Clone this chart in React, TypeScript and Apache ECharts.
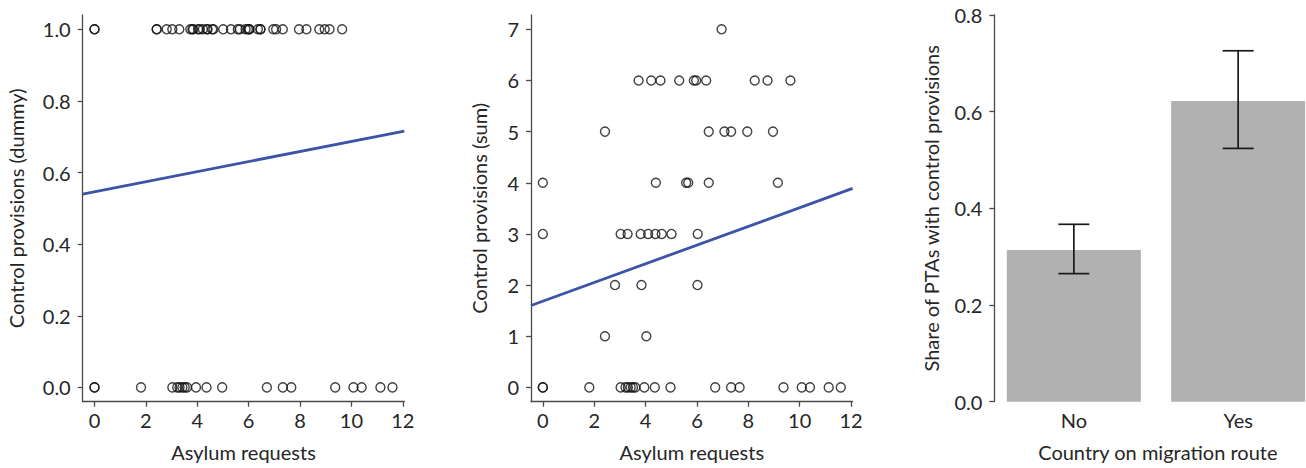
import React, { useEffect, useRef } from "react";
import * as echarts from "echarts";

// Asylum requests of countries, grouped by number of control provisions (sum)
const sum0 = [0, 0, 1.81, 3.03, 3.22, 3.31, 3.42, 3.51, 3.6, 3.95, 4.36, 4.97, 6.71, 7.33, 7.66, 9.37, 10.08, 10.4, 11.13, 11.6];
const sum1 = [2.42, 4.03];
const sum2 = [2.81, 3.84, 6.02];
const sum3 = [0, 3.03, 3.3, 3.81, 4.1, 4.38, 4.63, 5.01, 6.03];
const sum4 = [0, 4.4, 5.58, 5.66, 6.46, 9.15];
const sum5 = [2.42, 6.46, 7.07, 7.33, 7.96, 8.96];
const sum6 = [3.73, 4.22, 4.58, 5.31, 5.88, 5.97, 6.36, 8.25, 8.75, 9.64];
const sum7 = [6.96];
const sumGroups = [sum0, sum1, sum2, sum3, sum4, sum5, sum6, sum7];

// fitted lines (end points across the plot region)
const fitDummy = [[-0.46, 0.54], [12.06, 0.716]];
const fitSum = [[-0.46, 1.6], [12.06, 3.89]];

// bar panel
const routeCats = ["No", "Yes"];
const routeShare = [0.314, 0.622];
const routeLow = [0.265, 0.524];
const routeHigh = [0.367, 0.726];

const xTicks = [0, 2, 4, 6, 8, 10, 12];
const dummyTicks = [0, 0.2, 0.4, 0.6, 0.8, 1.0];
const sumTicks = [0, 1, 2, 3, 4, 5, 6, 7];

const FONT = "Lato";
const FS = 20;
const TXT = "#262626";
const AX = "#4a4a4a";

export default function App() {
  const ref = useRef<HTMLDivElement>(null);
  useEffect(() => {
    if (!ref.current) return;
    const chart = echarts.init(ref.current, null, { renderer: "svg" });

    const dummyPts: number[][] = [];
    const sumPts: number[][] = [];
    sumGroups.forEach((arr, level) => {
      arr.forEach((x) => {
        sumPts.push([x, level]);
        dummyPts.push([x, level > 0 ? 1 : 0]);
      });
    });

    const gridTop = 15;
    const gridH = 386.7;
    const axisLine = { show: true, onZero: false, lineStyle: { color: AX, width: 1.3 } };
    const axisTick = (vals?: number[]) => ({
      show: true,
      inside: false,
      length: 5,
      lineStyle: { color: AX, width: 1.3 },
      ...(vals ? { customValues: vals } : {}),
    });
    const lbl = { color: TXT, fontFamily: FONT, fontSize: FS };
    const nameStyle = { color: TXT, fontFamily: FONT, fontSize: FS };

    const scatterStyle = {
      type: "scatter" as const,
      symbol: "circle",
      symbolSize: 9,
      itemStyle: { color: "rgba(0,0,0,0)", borderColor: "#111", borderWidth: 1.4 },
      silent: true,
    };

    const option: any = {
      animation: false,
      backgroundColor: "#ffffff",
      grid: [
        { left: 82.7, top: gridTop, width: 321.6, height: gridH },
        { left: 531, top: gridTop, width: 321.6, height: gridH },
        { left: 991.7, top: gridTop, width: 314.3, height: gridH },
      ],
      xAxis: [
        {
          gridIndex: 0,
          type: "value",
          min: -0.46,
          max: 12.06,
          splitLine: { show: false },
          axisLine,
          axisTick: axisTick(xTicks),
          axisLabel: { ...lbl, margin: 8.5, customValues: xTicks },
          name: "Asylum requests",
          nameLocation: "middle",
          nameGap: 40,
          nameTextStyle: nameStyle,
        },
        {
          gridIndex: 1,
          type: "value",
          min: -0.46,
          max: 12.06,
          splitLine: { show: false },
          axisLine,
          axisTick: axisTick(xTicks),
          axisLabel: { ...lbl, margin: 8.5, customValues: xTicks },
          name: "Asylum requests",
          nameLocation: "middle",
          nameGap: 40,
          nameTextStyle: nameStyle,
        },
        {
          gridIndex: 2,
          type: "value",
          min: -0.5,
          max: 1.413,
          splitLine: { show: false },
          axisLine: { show: false, onZero: false },
          axisTick: { show: false },
          axisLabel: {
            ...lbl,
            margin: 8.5,
            customValues: [0, 1],
            formatter: (v: number) => routeCats[Math.round(v)] ?? "",
          },
          name: "Country on migration route",
          nameLocation: "middle",
          nameGap: 40,
          nameTextStyle: { ...nameStyle, padding: [0, 0, 0, 18] },
        },
      ],
      yAxis: [
        {
          gridIndex: 0,
          type: "value",
          min: -0.04,
          max: 1.04,
          splitLine: { show: false },
          axisLine,
          axisTick: axisTick(dummyTicks),
          axisLabel: {
            ...lbl,
            margin: 12,
            customValues: dummyTicks,
            formatter: (v: number) => v.toFixed(1),
          },
          name: "Control provisions (dummy)",
          nameLocation: "middle",
          nameGap: 57,
          nameTextStyle: nameStyle,
        },
        {
          gridIndex: 1,
          type: "value",
          min: -0.28,
          max: 7.28,
          splitLine: { show: false },
          axisLine,
          axisTick: axisTick(sumTicks),
          axisLabel: { ...lbl, margin: 12, customValues: sumTicks },
          name: "Control provisions (sum)",
          nameLocation: "middle",
          nameGap: 42,
          nameTextStyle: nameStyle,
        },
        {
          gridIndex: 2,
          type: "value",
          min: 0,
          max: 0.8,
          interval: 0.2,
          offset: -2.6,
          splitLine: { show: false },
          axisLine,
          axisTick: axisTick(),
          axisLabel: { ...lbl, margin: 12, formatter: (v: number) => v.toFixed(1) },
          name: "Share of PTAs with control provisions",
          nameLocation: "middle",
          nameGap: 53,
          nameTextStyle: nameStyle,
        },
      ],
      series: [
        { ...scatterStyle, xAxisIndex: 0, yAxisIndex: 0, data: dummyPts },
        {
          type: "line",
          xAxisIndex: 0,
          yAxisIndex: 0,
          data: fitDummy,
          showSymbol: false,
          lineStyle: { color: "#3b54a8", width: 2.8 },
          silent: true,
        },
        { ...scatterStyle, xAxisIndex: 1, yAxisIndex: 1, data: sumPts },
        {
          type: "line",
          xAxisIndex: 1,
          yAxisIndex: 1,
          data: fitSum,
          showSymbol: false,
          lineStyle: { color: "#3b54a8", width: 2.8 },
          silent: true,
        },
        {
          type: "bar",
          xAxisIndex: 2,
          yAxisIndex: 2,
          data: routeShare.map((v, i) => [i, v]),
          barWidth: 134,
          itemStyle: { color: "#b0b1b0" },
          silent: true,
          z: 2,
        },
        {
          type: "custom",
          xAxisIndex: 2,
          yAxisIndex: 2,
          z: 5,
          data: routeCats.map((_, i) => [i, routeLow[i], routeHigh[i]]),
          encode: { x: 0, y: [1, 2] },
          silent: true,
          renderItem: (params: any, api: any) => {
            const i = api.value(0);
            const lo = api.coord([i, api.value(1)]);
            const hi = api.coord([i, api.value(2)]);
            const half = 15.5;
            const st = { stroke: "#1a1a1a", lineWidth: 1.7 };
            return {
              type: "group",
              children: [
                { type: "line", shape: { x1: hi[0], y1: hi[1], x2: lo[0], y2: lo[1] }, style: st },
                { type: "line", shape: { x1: hi[0] - half, y1: hi[1], x2: hi[0] + half, y2: hi[1] }, style: st },
                { type: "line", shape: { x1: lo[0] - half, y1: lo[1], x2: lo[0] + half, y2: lo[1] }, style: st },
              ],
            };
          },
        },
      ],
    };
    chart.setOption(option);
    return () => chart.dispose();
  }, []);

  return (
    <div
      ref={ref}
      style={{ position: "absolute", left: 0, top: 0, width: 1306, height: 468, background: "#fff" }}
    />
  );
}
